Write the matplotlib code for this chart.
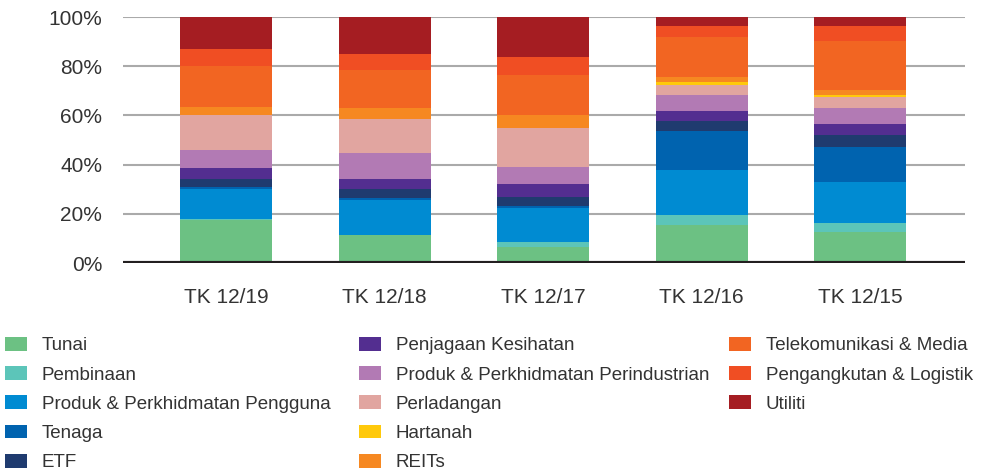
import numpy as np
import matplotlib.pyplot as plt
from matplotlib.ticker import FuncFormatter

plt.rcParams['font.family'] = ['Liberation Sans', 'DejaVu Sans']

# === 数据 ===
periods = ['TK 12/19', 'TK 12/18', 'TK 12/17', 'TK 12/16', 'TK 12/15']

sectors = ['Tunai', 'Pembinaan', 'Produk & Perkhidmatan Pengguna', 'Tenaga', 'ETF',
           'Penjagaan Kesihatan', 'Produk & Perkhidmatan Perindustrian', 'Perladangan',
           'Hartanah', 'REITs', 'Telekomunikasi & Media', 'Pengangkutan & Logistik', 'Utiliti']

colors = ['#6cc183', '#5cc5b9', '#008bd2', '#0063af', '#1f3b6f',
          '#532e90', '#b27ab4', '#e1a5a0', '#ffc90b', '#f68821',
          '#f26522', '#f04e23', '#a51d22']

# 每个时期各行业的占比 (%)
tunai        = [17.4, 11.3,  6.7, 15.5, 12.5]
pembinaan    = [ 0.4,  0.0,  1.8,  4.1,  3.7]
produk_peng  = [12.2, 14.3, 13.9, 18.2, 16.7]
tenaga       = [ 0.8,  0.8,  0.8, 15.9, 14.3]
etf          = [ 3.3,  3.8,  3.7,  4.1,  4.9]
kesihatan    = [ 4.5,  3.9,  5.3,  4.1,  4.5]
perindustrian = [ 7.3, 10.6,  6.9,  6.5,  6.5]
perladangan  = [14.3, 13.9, 15.9,  4.1,  4.5]
hartanah     = [ 0.0,  0.0,  0.0,  1.2,  0.8]
reits        = [ 3.3,  4.5,  5.3,  2.0,  2.0]
telekom      = [16.7, 15.5, 16.3, 16.3, 20.0]
pengangkutan = [ 6.9,  6.5,  7.3,  4.5,  6.1]
utiliti      = [12.8, 14.8, 16.1,  3.4,  3.4]

series = [tunai, pembinaan, produk_peng, tenaga, etf, kesihatan, perindustrian,
          perladangan, hartanah, reits, telekom, pengangkutan, utiliti]

# === 绘图 ===
fig = plt.figure(figsize=(9.87, 4.70), dpi=100)
ax = fig.add_axes([0.1246, 0.4404, 0.8531, 0.5234])

x = np.arange(len(periods))
bottom = np.zeros(len(periods))
handles = []
for name, vals, c in zip(sectors, series, colors):
    vals = np.array(vals, dtype=float)
    b = ax.bar(x, vals, 0.58, bottom=bottom, color=c, label=name, zorder=2)
    handles.append(b)
    bottom += vals

ax.set_ylim(0, 100)
ax.set_xlim(-0.65, 4.66)
ax.set_yticks([0, 20, 40, 60, 80, 100])
ax.yaxis.set_major_formatter(FuncFormatter(lambda v, p: f'{int(v)}%'))
ax.set_xticks(x)
ax.set_xticklabels(periods)

ax.grid(axis='y', color='#aaaaaa', linewidth=1.5, zorder=0)
ax.axhline(0, color='#231f20', linewidth=3, zorder=3)
for s in ax.spines.values():
    s.set_visible(False)
ax.tick_params(axis='both', length=0, labelsize=15, colors='#333333')
ax.tick_params(axis='y', pad=15)
ax.tick_params(axis='x', pad=18)

# 图例分三列, 每列单独放置 (5, 5, 3)
col_x = [0.005, 0.3637, 0.7386]
groups = [(0, 5), (5, 10), (10, 13)]
for cx, (i0, i1) in zip(col_x, groups):
    leg = fig.legend(handles=handles[i0:i1], labels=sectors[i0:i1], loc='upper left',
                     bbox_to_anchor=(cx, 0.2830), frameon=False, fontsize=13.5,
                     handlelength=1.17, handleheight=0.75, handletextpad=0.8,
                     labelspacing=0.63, borderaxespad=0, borderpad=0,
                     labelcolor='#333333')

plt.savefig('out.png', dpi=100)
plt.close()
